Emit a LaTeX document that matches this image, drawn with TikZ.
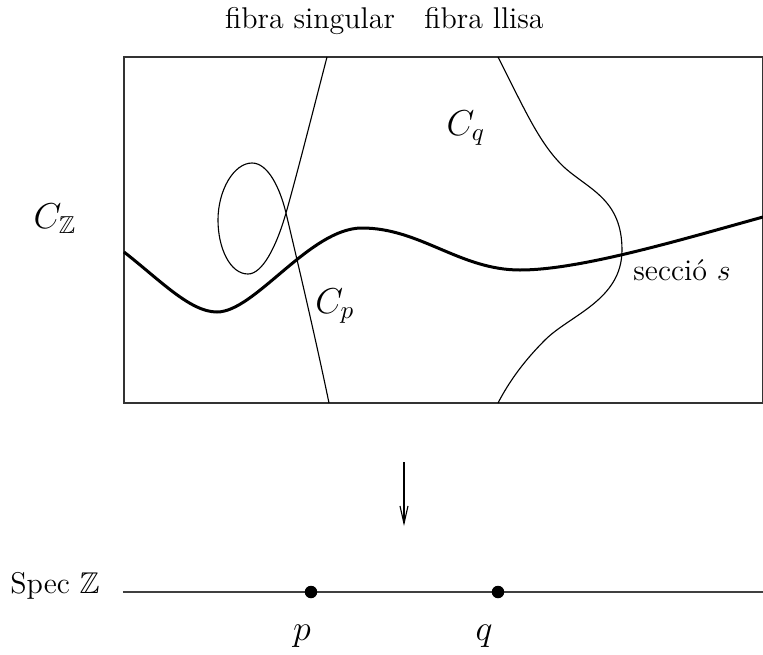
\documentclass[tikz,border=0pt]{standalone}
\usepackage{amssymb}
\usetikzlibrary{arrows.meta}
\begin{document}
\begin{tikzpicture}[x=0.4pt,y=-0.4pt,
  every node/.style={font=\fontsize{12}{14}\selectfont, inner sep=0pt},
  mathlbl/.style={font=\fontsize{14}{16}\selectfont},
  thinline/.style={line width=0.45pt, black},
  boxline/.style={line width=0.55pt, black!80},
  section/.style={line width=1.2pt, black},
  pt/.style={circle, fill=black, minimum size=5pt, inner sep=0pt},
  lbl/.style={anchor=base}]
\useasboundingbox (0,0) rectangle (763,655);

% surface box
\draw[boxline] (124,57) rectangle (763,403);

% singular fibre with node
\draw[thinline] (327,57) .. controls (312,115) and (296,178) .. (286,213)
  .. controls (276,248) and (262,274) .. (248,274)
  .. controls (230,274) and (218,248) .. (218,220)
  .. controls (218,190) and (234,163) .. (252,163)
  .. controls (268,163) and (280,188) .. (286,213)
  .. controls (296,255) and (316,340) .. (329,403);

% smooth fibre
\draw[thinline] (498,57) .. controls (525,110) and (540,145) .. (565,168)
  .. controls (590,190) and (622,200) .. (622,250)
  .. controls (622,300) and (570,315) .. (545,340)
  .. controls (525,360) and (510,380) .. (498,403);

% section
\draw[section] (124,252) .. controls (160,280) and (190,312) .. (217,312)
  .. controls (255,312) and (310,228) .. (362,228)
  .. controls (420,228) and (460,270) .. (520,270)
  .. controls (580,270) and (680,240) .. (763,217);

% labels
\node[lbl] (fs) at (310,28) {fibra singular};
\node[lbl] (fl) at (484,28) {fibra llisa};
\node[lbl,mathlbl] (cz) at (55,228) {$C_{\mathbb{Z}}$};
\node[lbl,mathlbl] (cq) at (466,135) {$C_q$};
\node[lbl,mathlbl] (cp) at (335,313) {$C_p$};
\node[lbl] (sec) at (682,280) {secci\'o $s$};

% projection arrow
\coordinate (a1) at (404,462);
\coordinate (a2) at (404,526);
\draw[thinline, -{Straight Barb[length=7pt,width=3.2pt]}] (a1) -- (a2);

% Spec Z line
\coordinate (l1) at (123,592);
\coordinate (l2) at (763,592);
\draw[line width=0.5pt, black!75] (l1) -- (l2);
\node[pt] (p) at (311,592) {};
\node[pt] (q) at (498,592) {};
\node[lbl] (spec) at (55,593) {Spec $\mathbb{Z}$};
\node[lbl,mathlbl] (pl) at (302,640) {$p$};
\node[lbl,mathlbl] (ql) at (484,640) {$q$};
\end{tikzpicture}
\end{document}
